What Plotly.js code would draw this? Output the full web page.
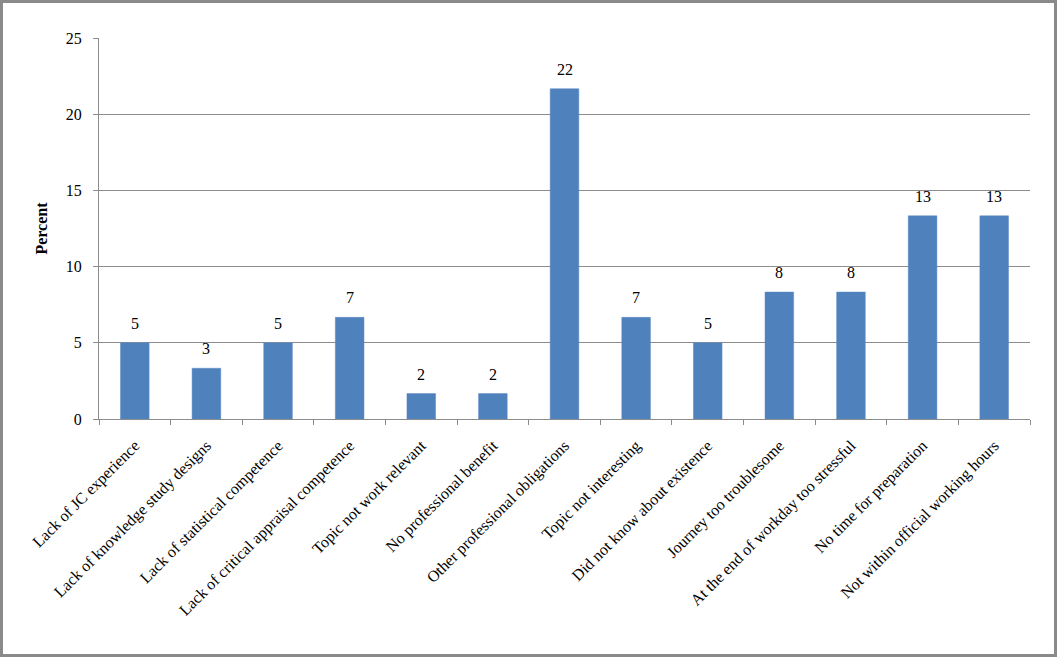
<!DOCTYPE html>
<html>
<head>
<meta charset="utf-8">
<script src="https://cdn.plot.ly/plotly-3.0.1.min.js"></script>
<style>
  html, body { margin: 0; padding: 0; background: #fff; }
  #frame { width: 1057px; height: 657px; box-sizing: border-box; border: 3px solid #8a8a8a; }
  #chart { width: 1051px; height: 651px; }
</style>
</head>
<body>
<div id="frame"><div id="chart"></div></div>
<script>
var reasons = [
    'Lack of JC experience',
    'Lack of knowledge study designs',
    'Lack of statistical competence',
    'Lack of critical appraisal competence',
    'Topic not work relevant',
    'No professional benefit',
    'Other professional obligations',
    'Topic not interesting',
    'Did not know about existence',
    'Journey too troublesome',
    'At the end of workday too stressful',
    'No time for preparation',
    'Not within official working hours'
];
var percent = [5, 3.33, 5, 6.67, 1.67, 1.67, 21.67, 6.67, 5, 8.33, 8.33, 13.33, 13.33];
var labels = ['5', '3', '5', '7', '2', '2', '22', '7', '5', '8', '8', '13', '13'];

var serif = 'Liberation Serif, Times New Roman, serif';

var trace1 = {
    type: 'bar',
    x: reasons,
    y: percent,
    marker: {color: '#4f81bd', line: {color: '#5b8ac4', width: 0.5}},
    hoverinfo: 'x+y'
};

// value labels sit a bit higher above the bars than plotly's outside text
var valueLabels = reasons.map(function (r, i) {
    return {
        x: r, y: percent[i], text: labels[i],
        showarrow: false, yanchor: 'bottom', yshift: 9,
        font: {family: serif, size: 16, color: '#000'}
    };
});

var layout1 = {
    width: 1051,
    height: 651,
    margin: {l: 96, r: 24, t: 35, b: 235},
    paper_bgcolor: '#fff',
    plot_bgcolor: '#fff',
    bargap: 0.6,
    showlegend: false,
    font: {family: serif, size: 16, color: '#000'},
    annotations: valueLabels,
    xaxis: {
        type: 'category',
        tickangle: -45,
        tickfont: {size: 16},
        ticklabelstandoff: 10,
        showline: true,
        linecolor: '#8c8c8c',
        linewidth: 1,
        ticks: 'outside',
        tickson: 'boundaries',
        ticklen: 5,
        tickcolor: '#8c8c8c',
        showgrid: false,
        zeroline: false
    },
    yaxis: {
        range: [0, 25],
        dtick: 5,
        tickfont: {size: 16},
        ticklabelstandoff: 8,
        title: {text: '<b>Percent</b>', font: {size: 16}, standoff: 14},
        showline: true,
        linecolor: '#8c8c8c',
        ticks: 'outside',
        ticklen: 5,
        tickcolor: '#8c8c8c',
        showgrid: true,
        gridcolor: '#8c8c8c',
        gridwidth: 1,
        zeroline: false
    }
};

Plotly.newPlot('chart', [trace1], layout1, {displayModeBar: false});
</script>
</body>
</html>
